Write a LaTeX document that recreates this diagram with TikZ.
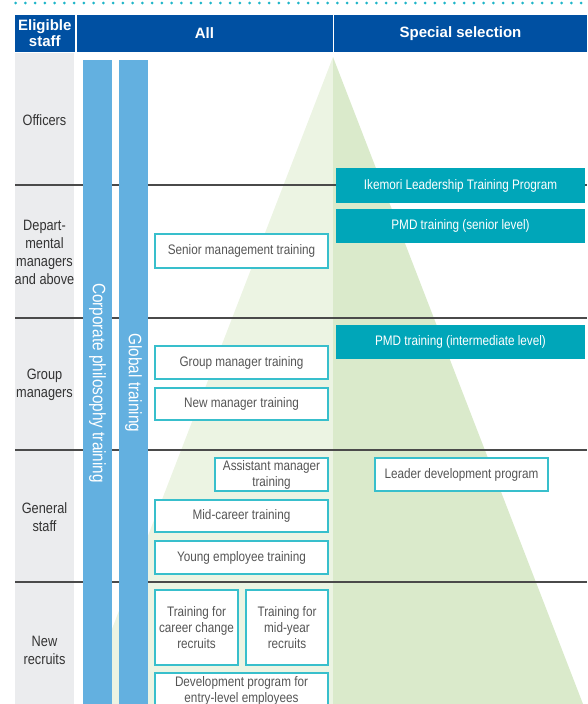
\documentclass[tikz,border=0pt]{standalone}
\usepackage{fontspec}
\setmainfont{Liberation Sans}
\newfontfamily\cond[FakeStretch=0.85]{Liberation Sans}
\definecolor{hdrblue}{HTML}{0050A2}
\definecolor{barblue}{HTML}{63B0E0}
\definecolor{tealc}{HTML}{00A6B9}
\definecolor{bordc}{HTML}{38BFCC}
\definecolor{boxtxt}{HTML}{555555}
\definecolor{rowtxt}{HTML}{333333}
\definecolor{greycol}{HTML}{EBECEE}
\definecolor{pyrL}{HTML}{ECF4E3}
\definecolor{pyrR}{HTML}{DAEACB}
\definecolor{sepc}{HTML}{4A4A4A}
\definecolor{dotc}{HTML}{1FB5C8}
\begin{document}
\begin{tikzpicture}[x=1pt,y=-1pt,
  hdrtxt/.style={text=white,font=\bfseries\fontsize{15}{16}\selectfont,align=center,inner sep=0pt},
  rowlbl/.style={text=rowtxt,font=\cond\fontsize{15}{18}\selectfont,align=center,inner sep=0pt},
  wbox/.style={draw=bordc,line width=1.3pt,fill=white,text=boxtxt,font=\cond\fontsize{13.8}{16}\selectfont,align=center,inner sep=0pt},
  tbox/.style={fill=tealc,text=white,font=\cond\fontsize{13.8}{16}\selectfont,align=center,inner sep=0pt,minimum width=249pt},
  bartxt/.style={text=white,font=\cond\fontsize{18}{20}\selectfont,inner sep=0pt,rotate=-90},
  sepline/.style={draw=sepc,line width=1.2pt}]
\useasboundingbox (0,0) rectangle (587,704);
\clip (0,0) rectangle (587,704);
% pyramid
\fill[pyrL] (333,57) -- (83,704) -- (333,704) -- cycle;
\fill[pyrR] (333,57) -- (583,704) -- (333,704) -- cycle;
% grey column
\fill[greycol] (15,53) rectangle (74,704);
% dotted top line
\draw[dotc,line width=3pt,line cap=round,dash pattern=on 0pt off 9.75pt] (15.7,3) -- (587,3);
% separators
\foreach \yy in {185,318,450,582} \draw[sepline] (15,\yy) -- (587,\yy);
% bars
\fill[barblue] (83,60) rectangle (112,704);
\fill[barblue] (119,60) rectangle (148,704);
\node[bartxt] (corp) at (97.5,383) {Corporate philosophy training};
\node[bartxt] (glob) at (133.5,383) {Global training};
% header
\fill[hdrblue] (15,15) rectangle (74.5,52);
\fill[hdrblue] (76.5,15) rectangle (332.5,52);
\fill[hdrblue] (334,15) rectangle (587,52);
\node[hdrtxt] (helig) at (44.8,33.5) {Eligible\\staff};
\node[hdrtxt] (hall) at (204.5,33.5) {All};
\node[hdrtxt] (hspec) at (460.5,33.5) {Special selection};
% row labels
\node[rowlbl] (r1) at (44.5,120) {Officers};
\node[rowlbl] (r2) at (44.5,252) {Depart-\\mental\\managers\\and above};
\node[rowlbl] (r3) at (44.5,385) {Group\\managers};
\node[rowlbl] (r4) at (44.5,517) {General\\staff};
\node[rowlbl] (r5) at (44.5,650) {New\\recruits};
% white boxes
\node[wbox,minimum width=173pt,minimum height=34pt] (senior) at (241.5,251) {Senior management training};
\node[wbox,minimum width=173pt,minimum height=33pt] (groupm) at (241.5,362.5) {Group manager training};
\node[wbox,minimum width=173pt,minimum height=32pt] (newm) at (241.5,404) {New manager training};
\node[wbox,minimum width=113pt,minimum height=33pt] (asst) at (271.5,474.5) {Assistant manager\\training};
\node[wbox,minimum width=173pt,minimum height=32pt] (midc) at (241.5,516) {Mid-career training};
\node[wbox,minimum width=173pt,minimum height=33pt] (young) at (241.5,557.5) {Young employee training};
\node[wbox,minimum width=83pt,minimum height=75pt] (cchg) at (196.5,627.5) {Training for\\career change\\recruits};
\node[wbox,minimum width=82pt,minimum height=75pt] (midy) at (287,627.5) {Training for\\mid-year\\recruits};
\node[wbox,minimum width=173pt,minimum height=36pt] (devp) at (241.5,691) {Development program for\\entry-level employees};
\node[wbox,minimum width=173pt,minimum height=33pt] (leader) at (461.5,474.5) {Leader development program};
% teal boxes
\node[tbox,minimum height=35pt] (ikemori) at (460.5,185.5) {Ikemori Leadership Training Program};
\node[tbox,minimum height=34pt] (pmds) at (460.5,226) {PMD training (senior level)};
\node[tbox,minimum height=34pt] (pmdi) at (460.5,342) {PMD training (intermediate level)};
\end{tikzpicture}
\end{document}
